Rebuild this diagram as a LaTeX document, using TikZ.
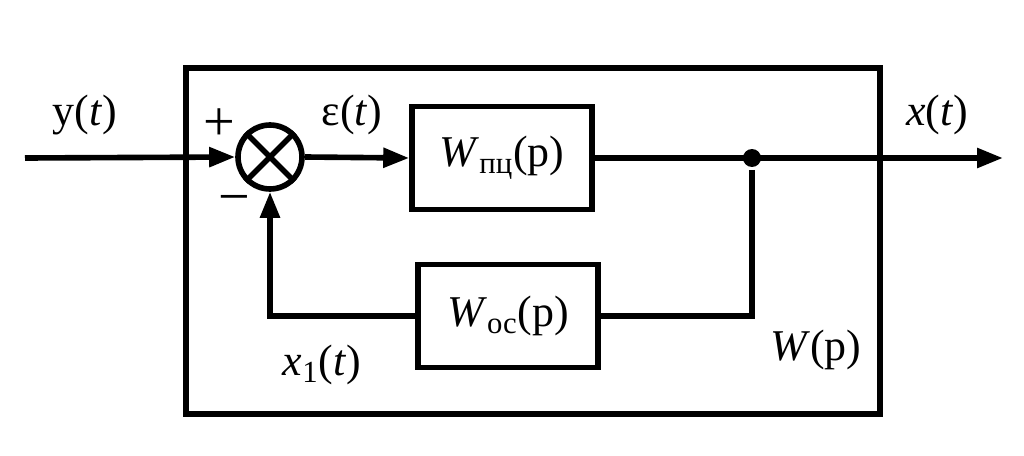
\documentclass[tikz,border=0pt]{standalone}
\usepackage{fontspec}
\setmainfont{Liberation Serif}
\usetikzlibrary{arrows.meta}
\tikzset{
  block/.style={draw,minimum width=3.6cm,minimum height=2.06cm,inner sep=0pt},
  summer/.style={draw,circle,minimum size=1.28cm,inner sep=0pt},
  junction/.style={circle,fill,minimum size=0.36cm,inner sep=0pt},
  arr/.style={-{Triangle[length=0.52cm,width=0.38cm]}},
  lbl/.style={inner sep=0pt},
  sign/.style={inner sep=0pt,font=\fontsize{32}{36}\selectfont}
}
\begin{document}
\begin{tikzpicture}[x=0.02cm,y=-0.02cm,line width=3.2pt,
    every node/.append style={font=\fontsize{25}{30}\selectfont}]
    \useasboundingbox (0,0) rectangle (1024,456);
    % frame of W(p)
    \draw (186,68) rectangle (880,414);
    \node[summer] (S) at (270,157) {};
    \draw (S.45) -- (S.225) (S.135) -- (S.315);
    \node[block] (P) at (502,158) {\textit{W}\textsubscript{пц}(p)};
    \node[block] (O) at (508,316) {\textit{W}\textsubscript{ос}(p)};
    \node[junction] (d) at (752,158) {};
    \coordinate (in) at (25,158);
    \coordinate (out) at (1003,158);
    \draw[arr] (in) -- (S.west);
    \draw[arr] (S.east) -- (P.west);
    \draw[arr] (P.east) -- (out);
    \draw (d) |- (O.east);
    \draw[arr] (O.west) -| (S.south);
    % labels
    \node[lbl] (y) at (85,115) {y(\textit{t})};
    \node[sign] (plus) at (219,125) {+};
    \node[sign] (minus) at (234,205) {−};
    \node[lbl] (e) at (352,115) {ε(\textit{t})};
    \node[lbl] (x) at (937,115) {\textit{x}(\textit{t})};
    \node[lbl] (W) at (816,350) {\textit{W}(p)};
    \node[lbl] (x1) at (322,365) {\textit{x}\textsubscript{1}(\textit{t})};
\end{tikzpicture}
\end{document}
